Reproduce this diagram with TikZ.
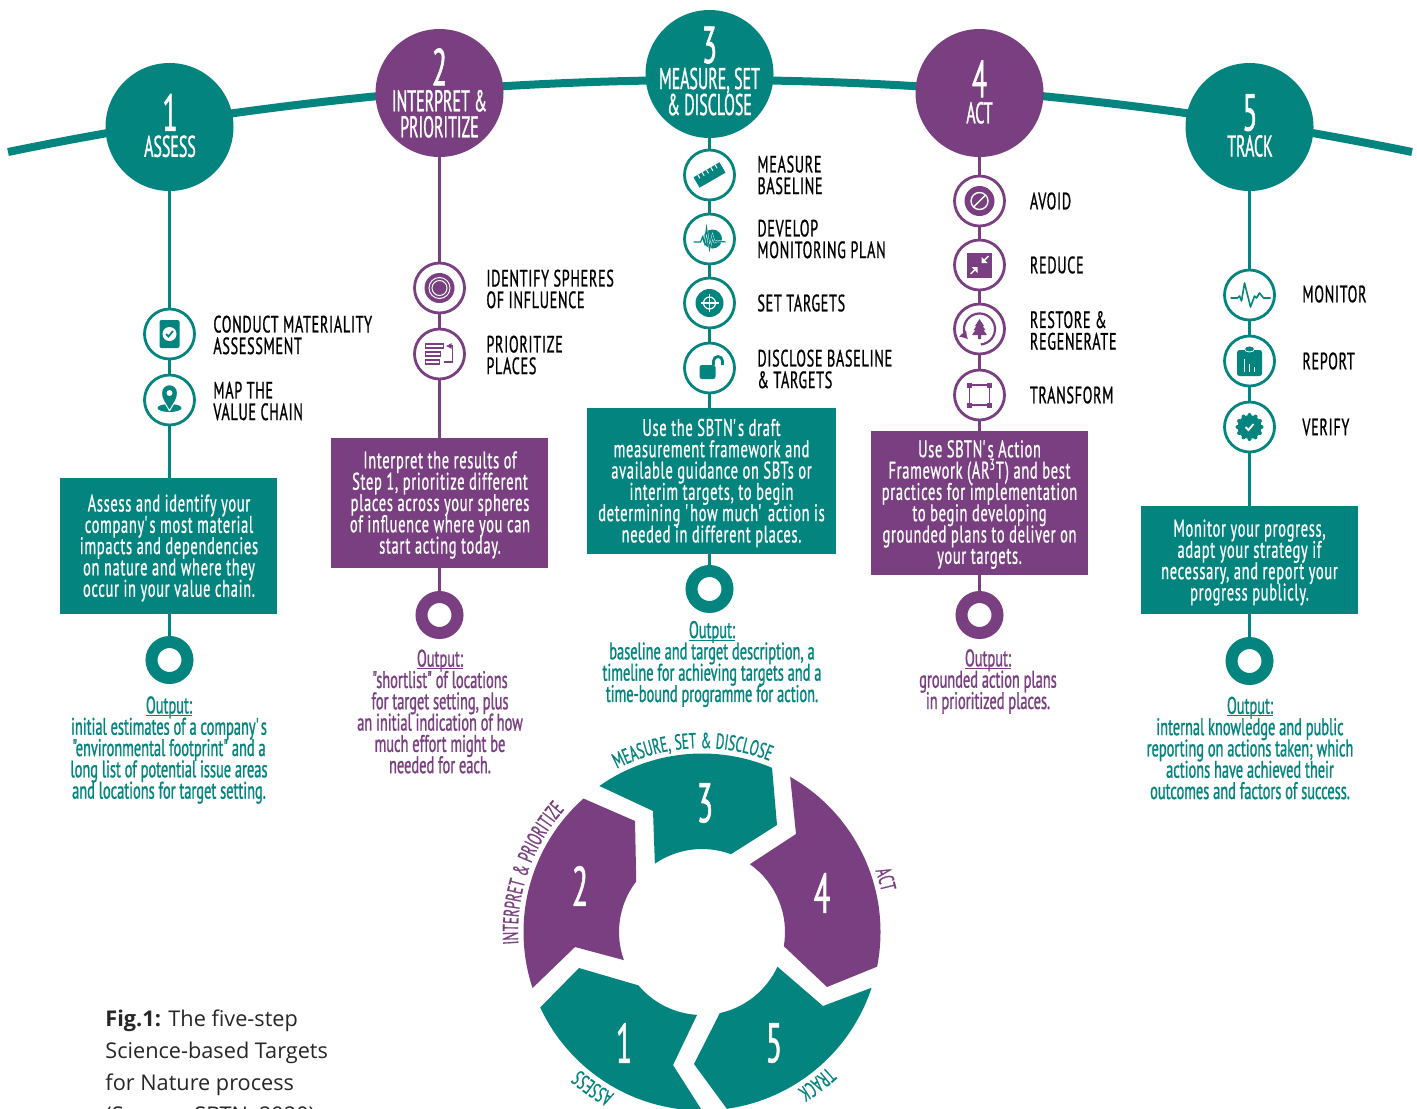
\documentclass[tikz,border=0pt]{standalone}
\usepackage{fontspec}
\setmainfont[FakeStretch=0.6,FakeBold=0.8,LetterSpace=3]{PT Sans}
\newfontfamily\titlefam[FakeStretch=0.53,FakeBold=1]{PT Sans}
\newfontfamily\outfam[FakeStretch=0.6,FakeBold=1]{PT Sans}
\newfontfamily\capfont{Open Sans}
\usetikzlibrary{arrows.meta,decorations.text}
\definecolor{sbtnteal}{HTML}{03847F}
\definecolor{sbtnpurple}{HTML}{793F80}
\newcommand{\numfont}{\titlefam\fontsize{26}{26}\selectfont}
\newcommand{\titlefont}{\titlefam\fontsize{15}{13}\selectfont\lineskiplimit=-5pt}
\newcommand{\labelfont}{\fontsize{11.8}{10.8}\selectfont\lineskiplimit=-5pt}
\newcommand{\bodyfont}{\fontsize{12}{10.65}\selectfont\lineskiplimit=-5pt}
\newcommand{\outfont}{\outfam\fontsize{12}{10.65}\selectfont\lineskiplimit=-5pt}
\newcommand{\ringfont}{\fontsize{10.8}{12}\selectfont}
\newcommand{\outhead}{\setbox0\hbox{Output:}\rlap{\rule[-1.2pt]{\wd0}{0.45pt}}\box0}
\newcommand{\ringr}{178.5}
\newcommand{\ringi}{83}
\newcommand{\ringt}{184}
\tikzset{
    stepcircle/.style={circle, minimum size=64pt, inner sep=0pt, fill=#1},
    steptitle/.style={inner sep=0pt, text=white, align=center, font=\titlefont},
    iconcircle/.style={circle, minimum size=25pt, inner sep=0pt, draw=#1, fill=white, line width=1.4pt},
    stepline/.style={draw=#1, line width=1.5pt},
    textbox/.style={rectangle, inner sep=0pt, fill=#1},
    boxtext/.style={inner sep=0pt, text=white, align=center, font=\bodyfont},
    outring/.style={circle, minimum size=18pt, inner sep=0pt, draw=#1, fill=white, line width=6pt},
    steplabel/.style={anchor=west, inner sep=0pt, align=left, font=\labelfont, text=black},
    outtext/.style={inner sep=0pt, align=center, font=\outfont, text=#1},
    ringnum/.style={inner sep=0pt, text=white, font=\titlefam\fontsize{28}{28}\selectfont},
    captext/.style={anchor=base west, inner sep=0pt, font=\capfont\fontsize{10.85}{16}\selectfont, text=black!85}
}
% icons, drawn in pixels round the centre of an icon circle
\newcommand{\iconcard}[2]{\begin{scope}[shift={(#1)}]
    \fill[#2, rounded corners=1pt] (-10,-14) rectangle (10,14);
    \fill[white] (0,0) circle[radius=7];
    \draw[#2, line width=0.9pt] (-3.5,0) -- (-1,2.5) -- (3.5,-3);
\end{scope}}
\newcommand{\iconpin}[2]{\begin{scope}[shift={(#1)}]
    \fill[#2] (0,8) ellipse[x radius=12, y radius=4];
    \fill[#2, draw=white, line width=0.5pt] (0,11) .. controls (-4,3) and (-8,0) .. (-8,-7) .. controls (-8,-18) and (8,-18) .. (8,-7) .. controls (8,0) and (4,3) .. (0,11);
    \fill[white] (0,-7) circle[radius=3];
\end{scope}}
\newcommand{\icontarget}[2]{\begin{scope}[shift={(#1)}]
    \fill[#2] (0,0) circle[radius=15];
    \draw[white, line width=0.5pt] (0,0) circle[radius=10.5];
    \draw[white, line width=0.5pt] (0,0) circle[radius=7.5];
\end{scope}}
\newcommand{\iconlist}[2]{\begin{scope}[shift={(#1)}]
    \draw[#2, line width=0.6pt] (-14,-10) rectangle (4,-6);
    \draw[#2, line width=0.6pt] (-14,-2) rectangle (1,2);
    \draw[#2, line width=0.6pt] (-14,6) rectangle (0,10);
    \draw[#2, line width=0.6pt, -{Latex[length=3pt,width=3pt]}] (4,8) -- (13,8) -- (13,-8) -- (6,-8);
\end{scope}}
\newcommand{\iconruler}[2]{\begin{scope}[shift={(#1)}, rotate=30]
    \fill[#2] (-15,-6) rectangle (15,6);
    \foreach \k in {-10,-5,0,5,10} {
        \draw[white, line width=0.5pt] (\k,-6) -- (\k,-2);
    }
\end{scope}}
\newcommand{\iconwave}[2]{\begin{scope}[shift={(#1)}]
    \fill[#2] (3,0) circle[radius=9.5];
    \draw[white, line width=1pt] (-5,4) -- (-3,-11) -- (0,10) -- (3,-3) -- (5,3) -- (8,2) -- (16,3);
    \draw[#2, line width=0.6pt] (-16,3) -- (-9,3) -- (-7,-2) -- (-5,4) -- (-3,-11) -- (0,10) -- (3,-3) -- (5,3) -- (8,2) -- (16,3);
\end{scope}}
\newcommand{\iconcross}[2]{\begin{scope}[shift={(#1)}]
    \fill[#2] (0,0) circle[radius=14];
    \draw[white, line width=0.6pt] (0,0) circle[radius=6];
    \draw[white, line width=0.6pt] (-9,0) -- (9,0) (0,-9) -- (0,9);
\end{scope}}
\newcommand{\iconlock}[2]{\begin{scope}[shift={(#1)}]
    \fill[#2, rounded corners=1.2pt] (-10,-3) rectangle (6,11);
    \draw[#2, line width=1.4pt] (4,-3) -- (4,-7) arc[start angle=180, end angle=360, radius=4.5] -- (13,-3);
\end{scope}}
\newcommand{\iconavoid}[2]{\begin{scope}[shift={(#1)}]
    \fill[#2] (0,0) circle[radius=15];
    \draw[white, line width=0.7pt] (0,0) circle[radius=8.5];
    \draw[white, line width=0.7pt] (-6,6) -- (6,-6);
\end{scope}}
\newcommand{\iconreduce}[2]{\begin{scope}[shift={(#1)}]
    \fill[#2] (-12.5,-12.5) rectangle (12.5,12.5);
    \draw[white, line width=0.7pt] (9,-9) -- (4,-4) (-9,9) -- (-4,4);
    \fill[white] (2,-2) -- (2,-8) -- (8,-2) -- cycle;
    \fill[white] (-2,2) -- (-2,8) -- (-8,2) -- cycle;
\end{scope}}
\newcommand{\icontree}[2]{\begin{scope}[shift={(#1)}]
    \draw[#2, line width=1.1pt, -{Latex[length=4pt,width=5pt]}] (85:15.5) arc[start angle=85, end angle=-222, radius=15.5];
    \fill[#2] (0,-10) -- (-4.5,-3) -- (-3,-3) -- (-6,1) -- (-4,1) -- (-7.5,6) -- (-1.5,6) -- (-1.5,10) -- (1.5,10) -- (1.5,6) -- (7.5,6) -- (4,1) -- (6,1) -- (3,-3) -- (4.5,-3) -- cycle;
\end{scope}}
\newcommand{\iconframe}[2]{\begin{scope}[shift={(#1)}]
    \draw[#2, line width=0.7pt] (-10,-10) rectangle (10,10);
    \foreach \k/\m in {-10/-10,10/-10,-10/10,10/10} {
        \fill[#2] (\k-2.5,\m-2.5) rectangle (\k+2.5,\m+2.5);
    }
\end{scope}}
\newcommand{\iconpulse}[2]{\begin{scope}[shift={(#1)}]
    \draw[#2, line width=0.8pt, line join=round] (-19,3) -- (-12,3) -- (-10,1) -- (-8,6) -- (-5,-12) -- (1,12) -- (5,1) -- (7,3) -- (10,-2) -- (14,3) -- (21,3);
\end{scope}}
\newcommand{\iconboard}[2]{\begin{scope}[shift={(#1)}]
    \fill[#2, rounded corners=1.2pt] (-12.5,-11) rectangle (12.5,15);
    \fill[#2, draw=white, line width=0.4pt] (0,-12) ellipse[x radius=5, y radius=3];
    \draw[white, line width=0.8pt] (-5,-2) -- (-5,11) (0,3) -- (0,11) (5,6) -- (5,11);
\end{scope}}
\newcommand{\iconbadge}[2]{\begin{scope}[shift={(#1)}]
    \fill[#2] (0,0) circle[radius=12];
    \foreach \k in {0,30,...,330} {
        \fill[#2] (\k:12) circle[radius=2];
    }
    \draw[white, line width=0.9pt] (-4,0) -- (-1,3) -- (4,-3);
\end{scope}}

\begin{document}
\begin{tikzpicture}[x=0.5pt, y=-0.5pt]
    \useasboundingbox (0,0) rectangle (1417,1108);
    \clip (0,0) rectangle (1417,1108);
    \coordinate (arcleft) at (8,152);
    \coordinate (arcright) at (1412,152);
    \draw[sbtnteal, line width=4pt] (arcleft) .. controls (476,56) and (944,56) .. (arcright);

    \node[stepcircle=sbtnteal] (step1) at (169.5,127) {};
    \node[stepcircle=sbtnpurple] (step2) at (439.5,93) {};
    \node[stepcircle=sbtnteal] (step3) at (709.5,74) {};
    \node[stepcircle=sbtnpurple] (step4) at (979.5,93) {};
    \node[stepcircle=sbtnteal] (step5) at (1249.5,127) {};
    \node[steptitle] (title1) at (170,125.5) {{\numfont 1}\\ASSESS};
    \node[steptitle] (title2) at (439.5,93) {{\numfont 2}\\INTERPRET \&\\PRIORITIZE};
    \node[steptitle] (title3) at (709.5,71) {{\numfont 3}\\MEASURE, SET\\\& DISCLOSE};
    \node[steptitle] (title4) at (979.5,92) {{\numfont 4}\\ACT};
    \node[steptitle] (title5) at (1250,125.5) {{\numfont 5}\\TRACK};

    \foreach \name/\y in {a/334,b/400} {
        \node[iconcircle=sbtnteal] (icon1\name) at (169.5,\y) {};
    }
    \foreach \name/\y in {a/288,b/354} {
        \node[iconcircle=sbtnpurple] (icon2\name) at (439.5,\y) {};
    }
    \foreach \name/\y in {a/175,b/239,c/303,d/368} {
        \node[iconcircle=sbtnteal] (icon3\name) at (709.5,\y) {};
    }
    \foreach \name/\y in {a/201,b/265,c/329,d/395} {
        \node[iconcircle=sbtnpurple] (icon4\name) at (979.5,\y) {};
    }
    \foreach \name/\y in {a/295,b/361,c/427} {
        \node[iconcircle=sbtnteal] (icon5\name) at (1249.5,\y) {};
    }

    \iconcard{icon1a}{sbtnteal}
    \iconpin{icon1b}{sbtnteal}
    \icontarget{icon2a}{sbtnpurple}
    \iconlist{icon2b}{sbtnpurple}
    \iconruler{icon3a}{sbtnteal}
    \iconwave{icon3b}{sbtnteal}
    \iconcross{icon3c}{sbtnteal}
    \iconlock{icon3d}{sbtnteal}
    \iconavoid{icon4a}{sbtnpurple}
    \iconreduce{icon4b}{sbtnpurple}
    \icontree{icon4c}{sbtnpurple}
    \iconframe{icon4d}{sbtnpurple}
    \iconpulse{icon5a}{sbtnteal}
    \iconboard{icon5b}{sbtnteal}
    \iconbadge{icon5c}{sbtnteal}

    \node[steplabel] (label1a) at (213,335) {CONDUCT MATERIALITY\\ASSESSMENT};
    \node[steplabel] (label1b) at (213,401) {MAP THE\\VALUE CHAIN};
    \node[steplabel] (label2a) at (486,289) {IDENTIFY SPHERES\\OF INFLUENCE};
    \node[steplabel] (label2b) at (486,355) {PRIORITIZE\\PLACES};
    \node[steplabel] (label3a) at (757,175) {MEASURE\\BASELINE};
    \node[steplabel] (label3b) at (757,239) {DEVELOP\\MONITORING PLAN};
    \node[steplabel] (label3c) at (757,303) {SET TARGETS};
    \node[steplabel] (label3d) at (757,369) {DISCLOSE BASELINE\\\& TARGETS};
    \node[steplabel] (label4a) at (1029.5,201) {AVOID};
    \node[steplabel] (label4b) at (1029.5,265) {REDUCE};
    \node[steplabel] (label4c) at (1029.5,330.5) {RESTORE \&\\REGENERATE};
    \node[steplabel] (label4d) at (1029.5,395) {TRANSFORM};
    \node[steplabel] (label5a) at (1302,294) {MONITOR};
    \node[steplabel] (label5b) at (1302,361) {REPORT};
    \node[steplabel] (label5c) at (1302,427) {VERIFY};

    \node[textbox=sbtnteal, minimum width=108.5pt, minimum height=68pt] (box1) at (168.5,546) {};
    \node[textbox=sbtnpurple, minimum width=108.5pt, minimum height=65pt] (box2) at (439.5,503) {};
    \node[textbox=sbtnteal, minimum width=124.5pt, minimum height=73pt] (box3) at (711.5,481) {};
    \node[textbox=sbtnpurple, minimum width=108.5pt, minimum height=72pt] (box4) at (979.5,503) {};
    \node[textbox=sbtnteal, minimum width=108.5pt, minimum height=54pt] (box5) at (1249.5,560) {};
    \node[boxtext] (text1) at (169,548) {Assess and identify your\\company\textquotesingle s most material\\impacts and dependencies\\on nature and where they\\occur in your value chain.};
    \node[boxtext] (text2) at (440,505) {Interpret the results of\\Step 1, prioritize different\\places across your spheres\\of influence where you can\\start acting today.};
    \node[boxtext] (text3) at (711.5,483) {Use the SBTN\textquotesingle s draft\\measurement framework and\\available guidance on SBTs or\\interim targets, to begin\\determining \textquotesingle how much\textquotesingle{} action is\\needed in different places.};
    \node[boxtext] (text4) at (979.5,504.5) {Use SBTN\textquotesingle s Action\\Framework (AR\textsuperscript{3}T) and best\\practices for implementation\\to begin developing\\grounded plans to deliver on\\your targets.};
    \node[boxtext] (text5) at (1249.5,562.5) {Monitor your progress,\\adapt your strategy if\\necessary, and report your\\progress publicly.};

    \node[outring=sbtnteal] (ring1) at (169.5,660) {};
    \node[outring=sbtnpurple] (ring2) at (439.5,615) {};
    \node[outring=sbtnteal] (ring3) at (709.5,589) {};
    \node[outring=sbtnpurple] (ring4) at (979.5,615) {};
    \node[outring=sbtnteal] (ring5) at (1249.5,661) {};

    \draw[stepline=sbtnteal] (step1) -- (icon1a) -- (icon1b) -- (icon1b |- box1.north);
    \draw[stepline=sbtnteal] (ring1 |- box1.south) -- (ring1);
    \draw[stepline=sbtnpurple] (step2) -- (icon2a) -- (icon2b) -- (box2);
    \draw[stepline=sbtnpurple] (box2) -- (ring2);
    \draw[stepline=sbtnteal] (step3) -- (icon3a) -- (icon3b) -- (icon3c) -- (icon3d) -- (icon3d |- box3.north);
    \draw[stepline=sbtnteal] (ring3 |- box3.south) -- (ring3);
    \draw[stepline=sbtnpurple] (step4) -- (icon4a) -- (icon4b) -- (icon4c) -- (icon4d) -- (box4);
    \draw[stepline=sbtnpurple] (box4) -- (ring4);
    \draw[stepline=sbtnteal] (step5) -- (icon5a) -- (icon5b) -- (icon5c) -- (box5);
    \draw[stepline=sbtnteal] (box5) -- (ring5);

    \node[outtext=sbtnteal] (out1) at (169,750) {\outhead\\initial estimates of a company\textquotesingle s\\"environmental footprint" and a\\long list of potential issue areas\\and locations for target setting.};
    \node[outtext=sbtnpurple] (out2) at (440,711.5) {\outhead\\"shortlist" of locations\\for target setting, plus\\an initial indication of how\\much effort might be\\needed for each.};
    \node[outtext=sbtnteal] (out3) at (712,664) {\outhead\\baseline and target description, a\\timeline for achieving targets and a\\time-bound programme for action.};
    \node[outtext=sbtnpurple] (out4) at (988,681.5) {\outhead\\grounded action plans\\in prioritized places.};
    \node[outtext=sbtnteal] (out5) at (1250,748) {\outhead\\internal knowledge and public\\reporting on actions taken; which\\actions have achieved their\\outcomes and factors of success.};

    \begin{scope}[shift={(702,932)}, x=0.5pt, y=0.5pt]
        \fill[sbtnteal] (205:\ringr) arc[start angle=205, end angle=270, radius=\ringr] -- (-29,-133) -- (266.6:\ringi) arc[start angle=266.6, end angle=220, radius=\ringi] -- (-123,-36) -- cycle;
        \fill[sbtnpurple] (198.3:\ringr) arc[start angle=198.3, end angle=131.6, radius=\ringr] -- (-67,111) -- (142.4:\ringi) arc[start angle=142.4, end angle=199.8, radius=\ringi] -- (-127,-15) -- cycle;
        \fill[sbtnteal] (125.1:\ringr) arc[start angle=125.1, end angle=66.9, radius=\ringr] -- (75,107) -- (69.6:\ringi) arc[start angle=69.6, end angle=124.6, radius=\ringi] -- (-49,121) -- cycle;
        \fill[sbtnpurple] (60.4:\ringr) arc[start angle=60.4, end angle=-11.2, radius=\ringr] -- (125,-55) -- (-9.8:\ringi) arc[start angle=-9.8, end angle=54.8, radius=\ringi] -- (94,98) -- cycle;
        \fill[sbtnteal] (-18.2:\ringr) arc[start angle=-18.2, end angle=-82, radius=\ringr] -- (-8,-132) -- (-77.6:\ringi) arc[start angle=-77.6, end angle=-24.7, radius=\ringi] -- (121,-74) -- cycle;
        \path[decorate, decoration={text along path, text align=center, text={|\ringfont\color{sbtnteal}|MEASURE, SET {\&} DISCLOSE}}] (133:\ringt) arc[start angle=133, end angle=53, radius=\ringt];
        \path[decorate, decoration={text along path, text align=center, text={|\ringfont\color{sbtnpurple}|INTERPRET {\&} PRIORITIZE}}] (201:\ringt) arc[start angle=201, end angle=121, radius=\ringt];
        \path[decorate, decoration={text along path, text align=center, text={|\ringfont\color{sbtnpurple}|ACT}}] (36:\ringt) arc[start angle=36, end angle=-4, radius=\ringt];
        \path[decorate, decoration={text along path, text align=center, text={|\ringfont\color{sbtnteal}|TRACK}}] (-33:\ringt) arc[start angle=-33, end angle=-73, radius=\ringt];
        \path[decorate, decoration={text along path, text align=center, text={|\ringfont\color{sbtnteal}|ASSESS}}] (255:\ringt) arc[start angle=255, end angle=215, radius=\ringt];
    \end{scope}

    \node[ringnum] (num1) at (624,1043) {1};
    \node[ringnum] (num2) at (580,886) {2};
    \node[ringnum] (num3) at (705,803) {3};
    \node[ringnum] (num4) at (822,893) {4};
    \node[ringnum] (num5) at (774,1043) {5};

    \node[captext] (cap1) at (105,1026) {\textbf{Fig.1:} The five-step};
    \node[captext] (cap2) at (105,1058) {Science-based Targets};
    \node[captext] (cap3) at (105,1090) {for Nature process};
    \node[captext] (cap4) at (105,1122) {(Source: SBTN, 2020)};
\end{tikzpicture}
\end{document}
